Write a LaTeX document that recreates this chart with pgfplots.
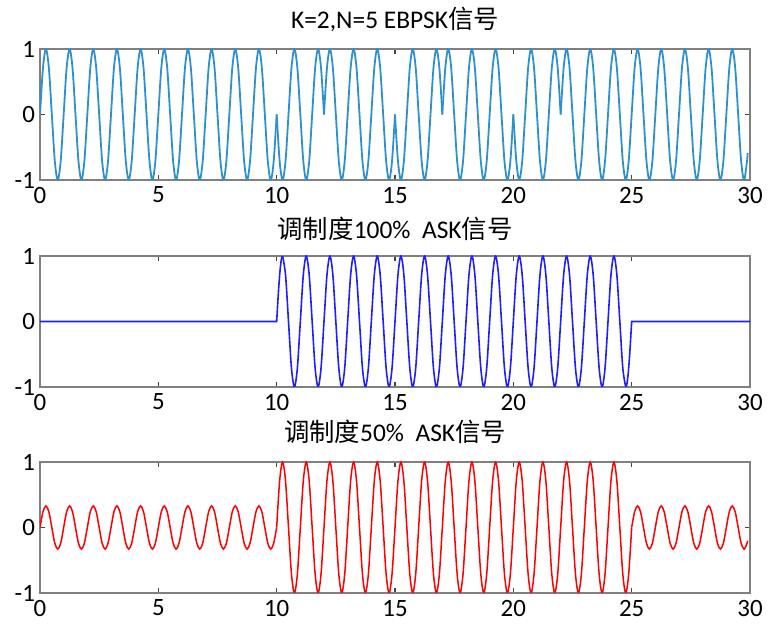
\documentclass[border=0pt]{standalone}
\usepackage{pgfplots}
\pgfplotsset{compat=1.18}
\usepackage{fontspec}
\setmainfont{Carlito}
\newfontfamily\cjk{Noto Sans CJK SC}
\definecolor{framegray}{RGB}{128,128,128}
\definecolor{tickgray}{RGB}{70,70,70}
\definecolor{ebpsk}{RGB}{45,145,208}
\definecolor{askblue}{RGB}{30,30,255}
\definecolor{askred}{RGB}{255,0,0}
\pgfplotsset{
  sig/.style={
    width=710bp, height=131bp, scale only axis,
    xmin=0, xmax=30, ymin=-1, ymax=1,
    xtick={0,5,10,15,20,25,30}, ytick={-1,0,1},
    yticklabels={-1,0,1},
    axis line style={draw=framegray, line width=1.8bp},
    tick style={draw=tickgray, line width=1.2bp},
    major tick length=5bp,
    tick align=inside,
    tick label style={font=\fontsize{25}{25}\selectfont},
    xticklabel style={yshift=-3.5bp},
    yticklabel style={xshift=-1.5bp},
    /pgf/number format/assume math mode=true,
    title style={font=\fontsize{25.5}{25.5}\selectfont, anchor=base, at={(0.5,1)}, yshift=15bp},
  },
}
\begin{document}
\begin{tikzpicture}
\useasboundingbox (0,0) rectangle (770bp,626bp);

% EBPSK, K=2 inverted cycles at the start of each "1" bit
\begin{axis}[sig, at={(40bp,446bp)}, anchor=south west,
  title={K=2,N=5 EBPSK{\cjk 信号}}]
\addplot[color=ebpsk, line width=1.8bp, smooth] coordinates {
(0,0)(0.125,.71)(0.25,1)(0.375,.71)(0.5,0)(0.625,-.71)(0.75,-1)(0.875,-.71)
(1,0)(1.125,.71)(1.25,1)(1.375,.71)(1.5,0)(1.625,-.71)(1.75,-1)(1.875,-.71)
(2,0)(2.125,.71)(2.25,1)(2.375,.71)(2.5,0)(2.625,-.71)(2.75,-1)(2.875,-.71)
(3,0)(3.125,.71)(3.25,1)(3.375,.71)(3.5,0)(3.625,-.71)(3.75,-1)(3.875,-.71)
(4,0)(4.125,.71)(4.25,1)(4.375,.71)(4.5,0)(4.625,-.71)(4.75,-1)(4.875,-.71)
(5,0)(5.125,.71)(5.25,1)(5.375,.71)(5.5,0)(5.625,-.71)(5.75,-1)(5.875,-.71)
(6,0)(6.125,.71)(6.25,1)(6.375,.71)(6.5,0)(6.625,-.71)(6.75,-1)(6.875,-.71)
(7,0)(7.125,.71)(7.25,1)(7.375,.71)(7.5,0)(7.625,-.71)(7.75,-1)(7.875,-.71)
(8,0)(8.125,.71)(8.25,1)(8.375,.71)(8.5,0)(8.625,-.71)(8.75,-1)(8.875,-.71)
(9,0)(9.125,.71)(9.25,1)(9.375,.71)(9.5,0)(9.625,-.71)(9.75,-1)(9.875,-.71)
(10,0)
};
\addplot[color=ebpsk, line width=1.8bp, smooth] coordinates {
(10,0)(10.125,-.71)(10.25,-1)(10.375,-.71)(10.5,0)(10.625,.71)(10.75,1)(10.875,.71)
(11,0)(11.125,-.71)(11.25,-1)(11.375,-.71)(11.5,0)(11.625,.71)(11.75,1)(11.875,.71)
(12,0)
};
\addplot[color=ebpsk, line width=1.8bp, smooth] coordinates {
(12,0)(12.125,.71)(12.25,1)(12.375,.71)(12.5,0)(12.625,-.71)(12.75,-1)(12.875,-.71)
(13,0)(13.125,.71)(13.25,1)(13.375,.71)(13.5,0)(13.625,-.71)(13.75,-1)(13.875,-.71)
(14,0)(14.125,.71)(14.25,1)(14.375,.71)(14.5,0)(14.625,-.71)(14.75,-1)(14.875,-.71)
(15,0)
};
\addplot[color=ebpsk, line width=1.8bp, smooth] coordinates {
(15,0)(15.125,-.71)(15.25,-1)(15.375,-.71)(15.5,0)(15.625,.71)(15.75,1)(15.875,.71)
(16,0)(16.125,-.71)(16.25,-1)(16.375,-.71)(16.5,0)(16.625,.71)(16.75,1)(16.875,.71)
(17,0)
};
\addplot[color=ebpsk, line width=1.8bp, smooth] coordinates {
(17,0)(17.125,.71)(17.25,1)(17.375,.71)(17.5,0)(17.625,-.71)(17.75,-1)(17.875,-.71)
(18,0)(18.125,.71)(18.25,1)(18.375,.71)(18.5,0)(18.625,-.71)(18.75,-1)(18.875,-.71)
(19,0)(19.125,.71)(19.25,1)(19.375,.71)(19.5,0)(19.625,-.71)(19.75,-1)(19.875,-.71)
(20,0)
};
\addplot[color=ebpsk, line width=1.8bp, smooth] coordinates {
(20,0)(20.125,-.71)(20.25,-1)(20.375,-.71)(20.5,0)(20.625,.71)(20.75,1)(20.875,.71)
(21,0)(21.125,-.71)(21.25,-1)(21.375,-.71)(21.5,0)(21.625,.71)(21.75,1)(21.875,.71)
(22,0)
};
\addplot[color=ebpsk, line width=1.8bp, smooth] coordinates {
(22,0)(22.125,.71)(22.25,1)(22.375,.71)(22.5,0)(22.625,-.71)(22.75,-1)(22.875,-.71)
(23,0)(23.125,.71)(23.25,1)(23.375,.71)(23.5,0)(23.625,-.71)(23.75,-1)(23.875,-.71)
(24,0)(24.125,.71)(24.25,1)(24.375,.71)(24.5,0)(24.625,-.71)(24.75,-1)(24.875,-.71)
(25,0)(25.125,.71)(25.25,1)(25.375,.71)(25.5,0)(25.625,-.71)(25.75,-1)(25.875,-.71)
(26,0)(26.125,.71)(26.25,1)(26.375,.71)(26.5,0)(26.625,-.71)(26.75,-1)(26.875,-.71)
(27,0)(27.125,.71)(27.25,1)(27.375,.71)(27.5,0)(27.625,-.71)(27.75,-1)(27.875,-.71)
(28,0)(28.125,.71)(28.25,1)(28.375,.71)(28.5,0)(28.625,-.71)(28.75,-1)(28.875,-.71)
(29,0)(29.125,.71)(29.25,1)(29.375,.71)(29.5,0)(29.625,-.71)(29.75,-1)(29.875,-.71)
(29.9,-.59)
};
\end{axis}

% ASK, 100% modulation
\begin{axis}[sig, at={(40bp,239bp)}, anchor=south west,
  title style={yshift=-3bp},
  title={{\cjk 调制度}100\%\ \ ASK{\cjk 信号}}]
\addplot[color=askblue, line width=1.6bp, sharp plot] coordinates {
(0,0)(10,0)(10.03125,.195)(10.0625,.383)(10.09375,.556)(10.125,.707)
(10.15625,.831)(10.1875,.924)(10.21875,.981)(10.25,1)
};
\addplot[color=askblue, line width=1.6bp, smooth] coordinates {
(10.25,1)(10.375,.71)(10.5,0)(10.625,-.71)(10.75,-1)(10.875,-.71)
(11,0)(11.125,.71)(11.25,1)(11.375,.71)(11.5,0)(11.625,-.71)(11.75,-1)(11.875,-.71)
(12,0)(12.125,.71)(12.25,1)(12.375,.71)(12.5,0)(12.625,-.71)(12.75,-1)(12.875,-.71)
(13,0)(13.125,.71)(13.25,1)(13.375,.71)(13.5,0)(13.625,-.71)(13.75,-1)(13.875,-.71)
(14,0)(14.125,.71)(14.25,1)(14.375,.71)(14.5,0)(14.625,-.71)(14.75,-1)(14.875,-.71)
(15,0)(15.125,.71)(15.25,1)(15.375,.71)(15.5,0)(15.625,-.71)(15.75,-1)(15.875,-.71)
(16,0)(16.125,.71)(16.25,1)(16.375,.71)(16.5,0)(16.625,-.71)(16.75,-1)(16.875,-.71)
(17,0)(17.125,.71)(17.25,1)(17.375,.71)(17.5,0)(17.625,-.71)(17.75,-1)(17.875,-.71)
(18,0)(18.125,.71)(18.25,1)(18.375,.71)(18.5,0)(18.625,-.71)(18.75,-1)(18.875,-.71)
(19,0)(19.125,.71)(19.25,1)(19.375,.71)(19.5,0)(19.625,-.71)(19.75,-1)(19.875,-.71)
(20,0)(20.125,.71)(20.25,1)(20.375,.71)(20.5,0)(20.625,-.71)(20.75,-1)(20.875,-.71)
(21,0)(21.125,.71)(21.25,1)(21.375,.71)(21.5,0)(21.625,-.71)(21.75,-1)(21.875,-.71)
(22,0)(22.125,.71)(22.25,1)(22.375,.71)(22.5,0)(22.625,-.71)(22.75,-1)(22.875,-.71)
(23,0)(23.125,.71)(23.25,1)(23.375,.71)(23.5,0)(23.625,-.71)(23.75,-1)(23.875,-.71)
(24,0)(24.125,.71)(24.25,1)(24.375,.71)(24.5,0)(24.625,-.71)(24.75,-1)
};
\addplot[color=askblue, line width=1.6bp, sharp plot] coordinates {
(24.75,-1)(24.78125,-.981)(24.8125,-.924)(24.84375,-.831)(24.875,-.707)
(24.90625,-.556)(24.9375,-.383)(24.96875,-.195)(25,0)(30,0)
};
\end{axis}

% ASK, 50% modulation
\begin{axis}[sig, at={(40bp,33bp)}, anchor=south west,
  title={{\cjk 调制度}50\%\ \ ASK{\cjk 信号}}]
\addplot[color=askred, line width=1.5bp, smooth] coordinates {
(0,0)(0.125,.24)(0.25,.33)(0.375,.24)(0.5,0)(0.625,-.24)(0.75,-.33)(0.875,-.24)
(1,0)(1.125,.24)(1.25,.33)(1.375,.24)(1.5,0)(1.625,-.24)(1.75,-.33)(1.875,-.24)
(2,0)(2.125,.24)(2.25,.33)(2.375,.24)(2.5,0)(2.625,-.24)(2.75,-.33)(2.875,-.24)
(3,0)(3.125,.24)(3.25,.33)(3.375,.24)(3.5,0)(3.625,-.24)(3.75,-.33)(3.875,-.24)
(4,0)(4.125,.24)(4.25,.33)(4.375,.24)(4.5,0)(4.625,-.24)(4.75,-.33)(4.875,-.24)
(5,0)(5.125,.24)(5.25,.33)(5.375,.24)(5.5,0)(5.625,-.24)(5.75,-.33)(5.875,-.24)
(6,0)(6.125,.24)(6.25,.33)(6.375,.24)(6.5,0)(6.625,-.24)(6.75,-.33)(6.875,-.24)
(7,0)(7.125,.24)(7.25,.33)(7.375,.24)(7.5,0)(7.625,-.24)(7.75,-.33)(7.875,-.24)
(8,0)(8.125,.24)(8.25,.33)(8.375,.24)(8.5,0)(8.625,-.24)(8.75,-.33)(8.875,-.24)
(9,0)(9.125,.24)(9.25,.33)(9.375,.24)(9.5,0)(9.625,-.24)(9.75,-.33)(9.875,-.24)
(10,0)
};
\addplot[color=askred, line width=1.5bp, smooth] coordinates {
(10,0)(10.125,.71)(10.25,1)(10.375,.71)(10.5,0)(10.625,-.71)(10.75,-1)(10.875,-.71)
(11,0)(11.125,.71)(11.25,1)(11.375,.71)(11.5,0)(11.625,-.71)(11.75,-1)(11.875,-.71)
(12,0)(12.125,.71)(12.25,1)(12.375,.71)(12.5,0)(12.625,-.71)(12.75,-1)(12.875,-.71)
(13,0)(13.125,.71)(13.25,1)(13.375,.71)(13.5,0)(13.625,-.71)(13.75,-1)(13.875,-.71)
(14,0)(14.125,.71)(14.25,1)(14.375,.71)(14.5,0)(14.625,-.71)(14.75,-1)(14.875,-.71)
(15,0)(15.125,.71)(15.25,1)(15.375,.71)(15.5,0)(15.625,-.71)(15.75,-1)(15.875,-.71)
(16,0)(16.125,.71)(16.25,1)(16.375,.71)(16.5,0)(16.625,-.71)(16.75,-1)(16.875,-.71)
(17,0)(17.125,.71)(17.25,1)(17.375,.71)(17.5,0)(17.625,-.71)(17.75,-1)(17.875,-.71)
(18,0)(18.125,.71)(18.25,1)(18.375,.71)(18.5,0)(18.625,-.71)(18.75,-1)(18.875,-.71)
(19,0)(19.125,.71)(19.25,1)(19.375,.71)(19.5,0)(19.625,-.71)(19.75,-1)(19.875,-.71)
(20,0)(20.125,.71)(20.25,1)(20.375,.71)(20.5,0)(20.625,-.71)(20.75,-1)(20.875,-.71)
(21,0)(21.125,.71)(21.25,1)(21.375,.71)(21.5,0)(21.625,-.71)(21.75,-1)(21.875,-.71)
(22,0)(22.125,.71)(22.25,1)(22.375,.71)(22.5,0)(22.625,-.71)(22.75,-1)(22.875,-.71)
(23,0)(23.125,.71)(23.25,1)(23.375,.71)(23.5,0)(23.625,-.71)(23.75,-1)(23.875,-.71)
(24,0)(24.125,.71)(24.25,1)(24.375,.71)(24.5,0)(24.625,-.71)(24.75,-1)(24.875,-.71)
(25,0)
};
\addplot[color=askred, line width=1.5bp, smooth] coordinates {
(25,0)(25.125,.24)(25.25,.33)(25.375,.24)(25.5,0)(25.625,-.24)(25.75,-.33)(25.875,-.24)
(26,0)(26.125,.24)(26.25,.33)(26.375,.24)(26.5,0)(26.625,-.24)(26.75,-.33)(26.875,-.24)
(27,0)(27.125,.24)(27.25,.33)(27.375,.24)(27.5,0)(27.625,-.24)(27.75,-.33)(27.875,-.24)
(28,0)(28.125,.24)(28.25,.33)(28.375,.24)(28.5,0)(28.625,-.24)(28.75,-.33)(28.875,-.24)
(29,0)(29.125,.24)(29.25,.33)(29.375,.24)(29.5,0)(29.625,-.24)(29.75,-.33)(29.875,-.24)
(29.9,-.2)
};
\end{axis}
\end{tikzpicture}
\end{document}
